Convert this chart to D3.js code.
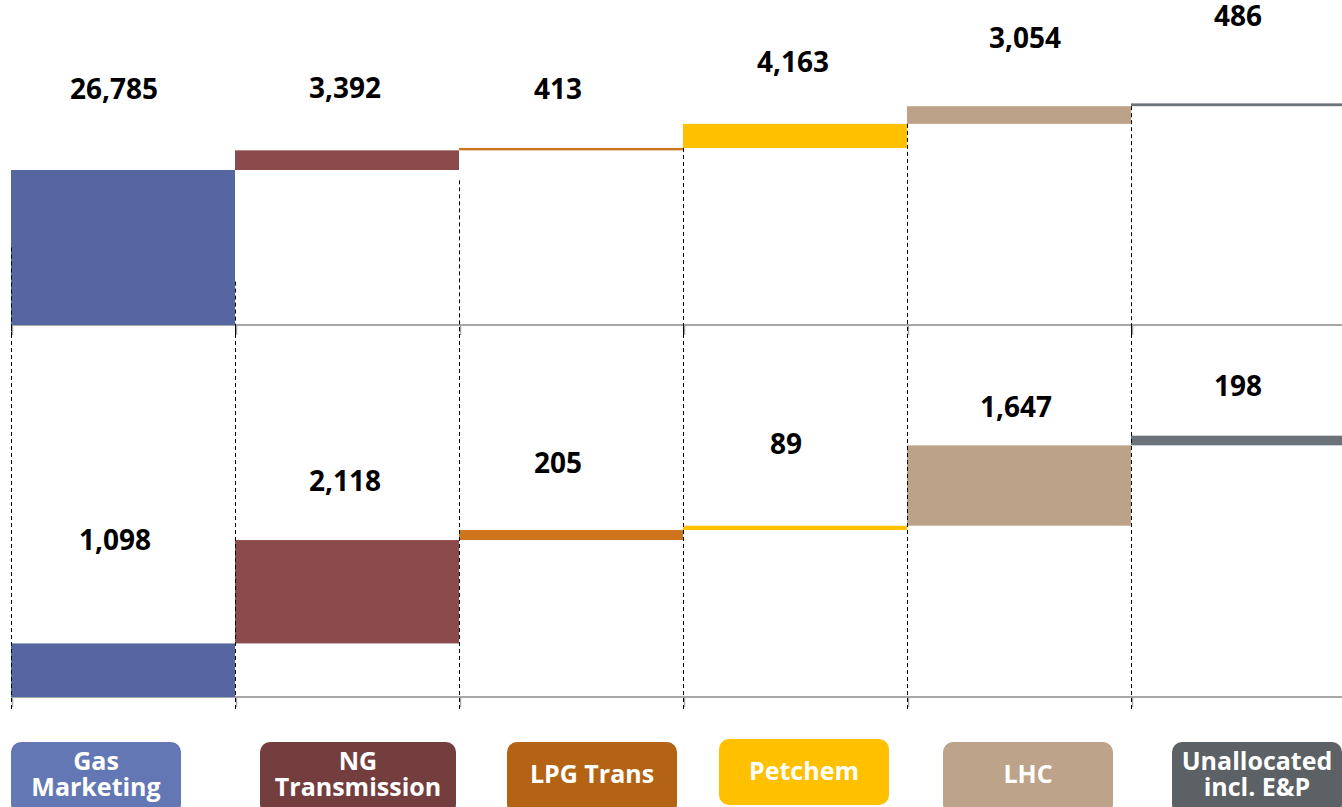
<!DOCTYPE html>
<html>
<head>
<meta charset="utf-8">
<script src="https://cdn.jsdelivr.net/npm/d3@7"></script>
<style>
  body { margin: 0; background: #fff; }
  svg { display: block; }
</style>
</head>
<body>
<svg id="chart" width="1342" height="807"></svg>
<script>
const categories = ["Gas Marketing", "NG Transmission", "LPG Trans", "Petchem", "LHC", "Unallocated incl. E&P"];
const boxLines = [["Gas", "Marketing"], ["NG", "Transmission"], ["LPG Trans"], ["Petchem"], ["LHC"], ["Unallocated", "incl. E&P"]];
const topValues = [26785, 3392, 413, 4163, 3054, 486];
const bottomValues = [1098, 2118, 205, 89, 1647, 198];

const barColors = ["#5566a0", "#8b4a4b", "#cd741d", "#ffc000", "#bca288", "#6b7378"];
const boxColors = ["#6377b5", "#743e3f", "#b46315", "#ffc000", "#bda389", "#5b6164"];

// value labels were placed by hand in the original, so keep their offsets (px)
const topLift = [71, 52, 49, 52, 58, 77];
const bottomLift = [93, 49, 57, 72, 28, 40];
const topShift = [-9, -2, -13, -2, 6, -5];
const bottomShift = [-8, -2, -13, -9, -3, -5];
// category boxes don't sit exactly under their columns either
const boxShift = [-27, 11, 21, 9, 9, 14];
const boxWidth = [170, 196, 170, 170, 170, 170];
const boxDy = [0, 0, 0, -3, 0, 0];

const svg = d3.select("#chart");
const W = 1342;

const x = d3.scaleBand()
    .domain(categories)
    .range([11, 11 + 224 * categories.length])
    .padding(0);

const yTop = d3.scaleLinear().domain([0, 40000]).range([325, 93.5]);
const yBot = d3.scaleLinear().domain([0, 6000]).range([697, 404.2]);

function waterfall(values) {
    let run = 0;
    return values.map((v, i) => {
        const d = { cat: categories[i], i, start: run, end: run + v, value: v };
        run += v;
        return d;
    });
}

const boundaries = categories.map(c => x(c)).concat([x(categories[categories.length - 1]) + x.bandwidth()]);

function drawPanel(values, y, lift, shift, dashFrom) {
    const data = waterfall(values);
    const g = svg.append("g");
    const base = y(0);

    // axis line + ticks at column boundaries
    g.append("line")
        .attr("x1", 11).attr("x2", W)
        .attr("y1", base).attr("y2", base)
        .attr("stroke", "#a6a6a6").attr("stroke-width", 2);

    g.selectAll(".tick")
        .data(boundaries.filter(b => b < W))
        .enter().append("line")
        .attr("x1", d => d + 1.5).attr("x2", d => d + 1.5)
        .attr("y1", base).attr("y2", base + 10)
        .attr("stroke", "#a6a6a6").attr("stroke-width", 1.5);

    g.selectAll(".bar")
        .data(data)
        .enter().append("rect")
        .attr("x", d => x(d.cat))
        .attr("width", x.bandwidth())
        .attr("y", d => y(d.end))
        .attr("height", d => Math.max(1.5, y(d.start) - y(d.end)))
        .attr("fill", (d, i) => barColors[i]);

    // dashed connectors
    g.selectAll(".dash")
        .data(boundaries.filter(b => b < W))
        .enter().append("line")
        .attr("x1", d => d + 0.5).attr("x2", d => d + 0.5)
        .attr("y1", (d, i) => dashFrom(i, data))
        .attr("y2", base + 12)
        .attr("stroke", "#000").attr("stroke-width", 1)
        .attr("stroke-dasharray", "4,3");

    g.selectAll(".val")
        .data(data)
        .enter().append("text")
        .attr("x", (d, i) => x(d.cat) + x.bandwidth() / 2 + shift[i])
        .attr("y", (d, i) => y(d.end) - lift[i])
        .attr("text-anchor", "middle")
        .attr("font-family", "'Open Sans', sans-serif")
        .attr("font-weight", 700)
        .attr("font-size", 28)
        .attr("fill", "#000")
        .text(d => d3.format(",")(d.value));
}

drawPanel(topValues, yTop, topLift, topShift, (i, data) => {
    if (i === 0) return yTop(data[0].end / 2);
    if (i === 1) return yTop(data[0].end * 0.28);
    return yTop(data[i - 1].end) + (i === 2 ? 30 : 0);
});
drawPanel(bottomValues, yBot, bottomLift, bottomShift, () => yTop(0) + 2);

// category boxes
const boxes = svg.append("g").selectAll("g")
    .data(categories)
    .enter().append("g")
    .attr("transform", (d, i) => `translate(${x(d) + x.bandwidth() / 2 + boxShift[i]},${742 + boxDy[i]})`);

boxes.append("rect")
    .attr("x", (d, i) => -boxWidth[i] / 2)
    .attr("width", (d, i) => boxWidth[i])
    .attr("y", 0)
    .attr("height", (d, i) => i === 3 ? 66 : 72)
    .attr("rx", 10)
    .attr("fill", (d, i) => boxColors[i]);

boxes.each(function (d, i) {
    const lines = boxLines[i];
    const t = d3.select(this).append("text")
        .attr("text-anchor", "middle")
        .attr("font-family", "'Open Sans', sans-serif")
        .attr("font-weight", 700)
        .attr("font-size", 25)
        .attr("fill", "#fff");
    const first = lines.length === 1 ? 41 : 28;
    lines.forEach((s, k) => {
        t.append("tspan").attr("x", 0).attr("y", first + k * 26).text(s);
    });
});
</script>
</body>
</html>
